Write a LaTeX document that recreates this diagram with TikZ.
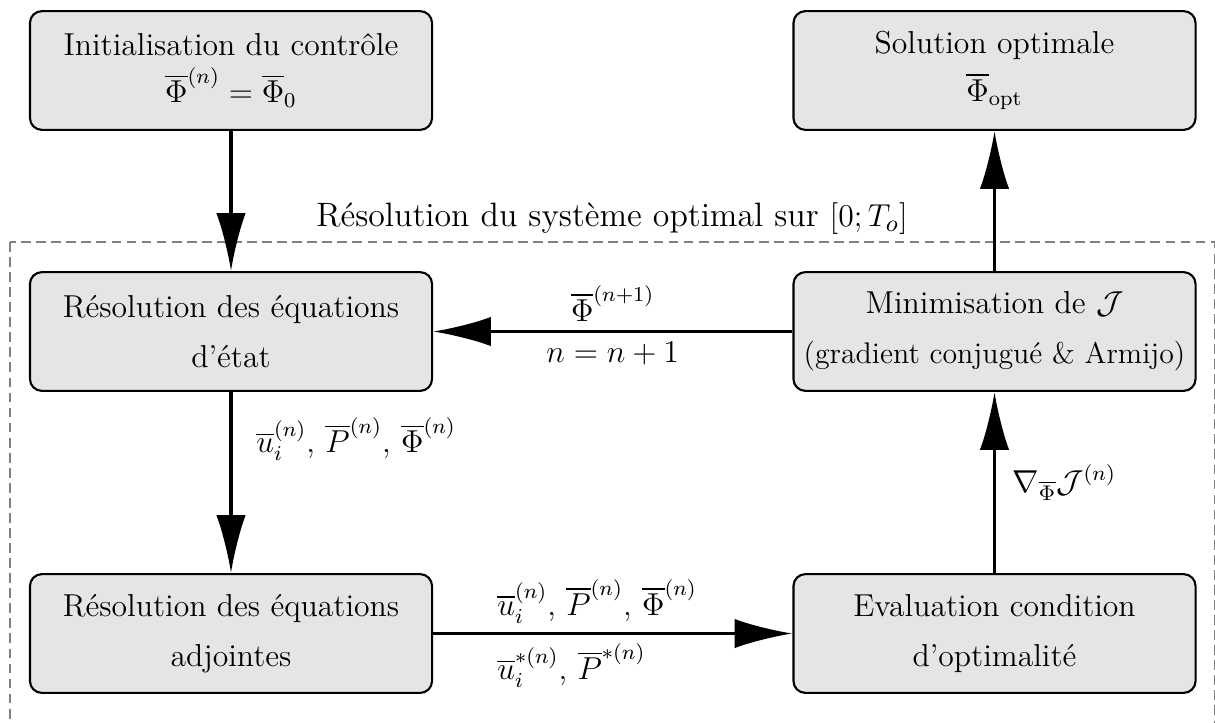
\documentclass[tikz,border=0pt]{standalone}
\usepackage{amsmath}
\usetikzlibrary{arrows.meta,positioning}
\tikzset{
  >={Latex[length=7.7mm,width=3.9mm]},
  block/.style={draw=black,fill=gray!20,rounded corners=4.5pt,thick,inner xsep=1pt,
    minimum width=5.35cm,minimum height=1.58cm,align=center,font=\large},
  flow/.style={->,line width=1.2pt},
  tag/.style={font=\large},
  frame/.style={draw=gray,dash pattern=on 3.7pt off 2pt,line width=0.4pt},
}
\begin{document}
\begin{tikzpicture}[x=0.0133cm,y=-0.0133cm]
  \clip (0,0) rectangle (1215,722);
  % cadre de la boucle d'optimisation
  \draw[frame] (10,242) rectangle (1214,780);
  \node[tag,font=\fontsize{12.8}{15}\selectfont] (titre) at (612,219) {R\'esolution du syst\`eme optimal sur $[0;T_o]$};

  \node[block] (init) at (231,70.5) {Initialisation du contr\^ole\\[4pt]$\overline{\Phi}^{(n)}=\overline{\Phi}_0$};
  \node[block] (sol) at (994.5,70.5) {Solution optimale\\[4pt]$\overline{\Phi}_{\text{opt}}$};
  \node[block] (etat) at (231,331.5) {R\'esolution des \'equations\\[5pt]d'\'etat};
  \node[block,font=\fontsize{11.3}{14}\selectfont] (mini) at (994.5,331.5)
    {{\large Minimisation de $\mathcal{J}$}\\[5pt](gradient conjugu\'e \& Armijo)};
  \node[block] (adj) at (231,633.5) {R\'esolution des \'equations\\[5pt]adjointes};
  \node[block] (eval) at (994.5,633.5) {Evaluation condition\\[5pt]d'optimalit\'e};

  \draw[flow] (init) -- (etat);
  \draw[flow] (etat) -- node[pos=0.26,right=2mm,tag]
    {$\overline{u}_i^{(n)}$, $\overline{P}^{(n)}$, $\overline{\Phi}^{(n)}$} (adj);
  \draw[flow] (adj) -- node[pos=0.15,anchor=south west,tag]
    {$\overline{u}_i^{(n)}$, $\overline{P}^{(n)}$, $\overline{\Phi}^{(n)}$}
    node[pos=0.15,anchor=north west,tag]
    {$\overline{u}_i^{*(n)}$, $\overline{P}^{*(n)}$} (eval);
  \draw[flow] (eval) -- node[right=1mm,tag] {$\nabla_{\overline{\Phi}}\mathcal{J}^{(n)}$} (mini);
  \draw[flow] (mini) -- node[above,tag] {$\overline{\Phi}^{(n+1)}$}
    node[below,tag] {$n=n+1$} (etat);
  \draw[flow] (mini) -- (sol);
\end{tikzpicture}
\end{document}
